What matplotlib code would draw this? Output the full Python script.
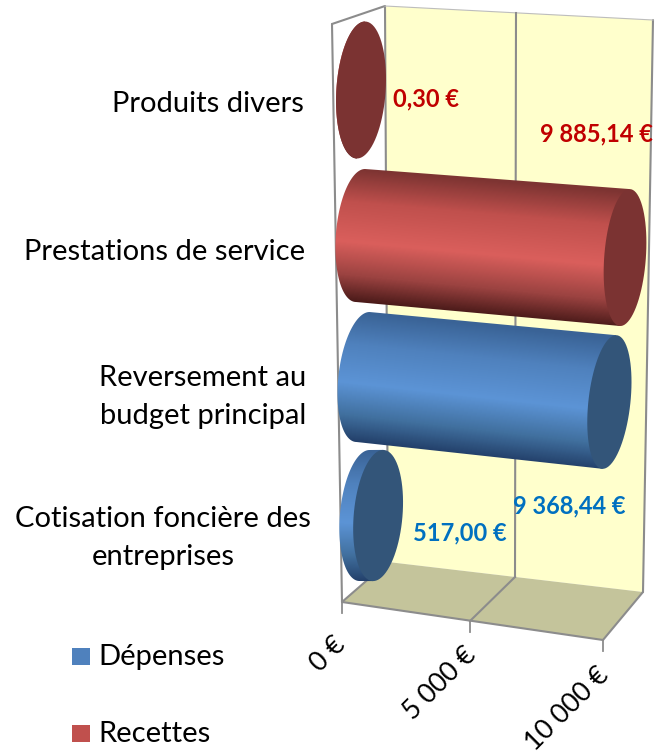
#!/usr/bin/env python3
"""Cylindres 3D : depenses / recettes, dessines a la main en coordonnees pixel"""

import numpy as np
import matplotlib
matplotlib.use('Agg')
import matplotlib.pyplot as plt
from matplotlib.colors import LinearSegmentedColormap
from matplotlib.patches import Polygon, PathPatch
from matplotlib.path import Path

plt.rcParams['font.family'] = ['Lato', 'DejaVu Sans']

# donnees, de haut en bas
categories = ['Produits divers', 'Prestations de service',
              'Reversement au\nbudget principal',
              'Cotisation foncière des\nentreprises']
series = ['Recettes', 'Recettes', 'Dépenses', 'Dépenses']
values = [0.30, 9885.14, 9368.44, 517.00]
value_labels = ['0,30 €', '9 885,14 €', '9 368,44 €', '517,00 €']
ticks = [0, 5000, 10000]
tick_labels = ['0 €', '5 000 €', '10 000 €']
legend_names = ['Dépenses', 'Recettes']

# geometrie de la boite 3D (pixels)
front_x = [342, 470, 603]
front_y = [602, 621, 640]
back_x = [388, 515, 643]
back_y = [562, 577, 592]
top_back_x = [385, 516, 653]
top_back_y = [6, 13, 20]

# geometrie des cylindres : centre de depart, demi-axe, pixels par euro
row_cx = [361, 360.5, 363, 364.5]
row_cy = [90, 235.5, 377, 515.5]
row_ax = [4, 4.5, 6.5, 5]
row_ay = [68.5, 66.5, 65, 65.5]
row_sx = [0.0265, 0.02676, 0.0263, 0.0263]
row_sy = [0.0, 0.00223, 0.00267, 0.0]

CAP = {'Recettes': '#7b3332', 'Dépenses': '#335579'}
BODY = {
    'Recettes': [(0, '#7d3432'), (0.25, '#c0504d'), (0.55, '#da5f5c'), (0.8, '#9c4341'), (1, '#4a1a19')],
    'Dépenses': [(0, '#3a6396'), (0.25, '#4f81bd'), (0.55, '#5c94d6'), (0.8, '#41709f'), (1, '#23406a')],
}
LEGEND = {'Dépenses': '#4f81bd', 'Recettes': '#c0504d'}
TEXT = {'Recettes': '#c00000', 'Dépenses': '#0070c0'}
GRID = '#8c8c8c'

fig = plt.figure(figsize=(6.62, 7.55), dpi=100)
ax = fig.add_axes([0, 0, 1, 1])
ax.set_xlim(0, 662)
ax.set_ylim(755, 0)
ax.axis('off')


def half_width(x):
    return 24.7 - (x - 360) * 0.0145


def ellipse(cx, cy, axx, ayy, w, t0=0, t1=2 * np.pi):
    t = np.linspace(t0, t1, 80)
    # t=0 en haut, t=pi/2 a gauche, t=pi en bas
    return np.column_stack([cx + axx * np.cos(t) - w * np.sin(t),
                            cy - ayy * np.cos(t)])


# murs et sol
ax.add_patch(Polygon([(top_back_x[0], top_back_y[0]), (top_back_x[-1], top_back_y[-1]),
                      (back_x[-1], back_y[-1]), (back_x[0], back_y[0])],
                     fc='#ffffcc', ec='none', zorder=1))
ax.add_patch(Polygon([(front_x[0], front_y[0]), (back_x[0], back_y[0]),
                      (back_x[-1], back_y[-1]), (front_x[-1], front_y[-1])],
                     fc='#c4c49b', ec='none', zorder=1))

lines = [
    ((332, 342), (24, front_y[0])),
    ((332, top_back_x[0]), (24, top_back_y[0])),
    ((top_back_x[0], back_x[0]), (top_back_y[0], back_y[0])),
    ((top_back_x[-1], back_x[-1]), (top_back_y[-1], back_y[-1])),
    ((front_x[0], front_x[-1]), (front_y[0], front_y[-1])),
    ((front_x[-1], back_x[-1]), (front_y[-1], back_y[-1])),
    ((front_x[0], back_x[0]), (front_y[0], back_y[0])),
]
for xs, ys in lines:
    ax.plot(xs, ys, color=GRID, lw=1.5, zorder=2, solid_capstyle='round')
ax.plot([top_back_x[0], top_back_x[-1]], [top_back_y[0], top_back_y[-1]],
        color='#bdbdbd', lw=0.8, zorder=2)

for i, tick in enumerate(ticks):
    ax.plot([front_x[i], front_x[i]], [front_y[i], front_y[i] + 11], color=GRID, lw=1.3, zorder=2)
    if i == 1:
        ax.plot([top_back_x[i], back_x[i]], [top_back_y[i], back_y[i]], color=GRID, lw=1.5, zorder=2)
        ax.plot([front_x[i], back_x[i]], [front_y[i], back_y[i]], color=GRID, lw=1.5, zorder=2)

# cylindres
for i, value in enumerate(values):
    name = series[i]
    cx0, cy0 = row_cx[i], row_cy[i]
    cx1 = cx0 + value * row_sx[i]
    cy1 = cy0 + value * row_sy[i]
    grow = 1 + value / 10000 * 0.03
    axx, ayy = row_ax[i], row_ay[i]
    w0, w1 = half_width(cx0), half_width(cx1)

    left = ellipse(cx0, cy0, axx, ayy, w0, 0, np.pi)
    outline = np.vstack([left,
                         [cx1 - axx * grow, cy1 + ayy * grow],
                         [cx1 + axx * grow, cy1 - ayy * grow]])
    clip = PathPatch(Path(np.vstack([outline, outline[:1]])), fc='none', ec='none',
                     transform=ax.transData)
    ax.add_patch(clip)

    # degrade transverse qui suit la pente du cylindre
    x0 = int(min(outline[:, 0].min(), cx0 - 30))
    x1 = int(outline[:, 0].max() + 2)
    y0 = int(outline[:, 1].min() - 2)
    y1 = int(outline[:, 1].max() + 2)
    xx, yy = np.meshgrid(np.arange(x0, x1), np.arange(y0, y1))
    slope = row_sy[i] / row_sx[i]
    span = 2 * ayy * (1 + (xx - cx0) / 265 * 0.03)
    frac = (yy - (cy0 - ayy + slope * (xx - cx0))) / span
    cmap = LinearSegmentedColormap.from_list('body_%d' % i, BODY[name])
    im = ax.imshow(np.clip(frac, 0, 1), cmap=cmap, vmin=0, vmax=1, extent=(x0, x1, y1, y0),
                   aspect='auto', interpolation='bilinear', zorder=3 + i)
    im.set_clip_path(clip)

    cap = ellipse(cx1, cy1, axx * grow, ayy * grow, w1)
    ax.add_patch(Polygon(cap, fc=CAP[name], ec='none', zorder=3.5 + i))

ax.set_xlim(0, 662)
ax.set_ylim(755, 0)

# textes categories
label_pos = [(208, 104), (164.5, 252), (203, 397), (163, 538)]
for cat, (x, y) in zip(categories, label_pos):
    ax.text(x, y, cat, fontsize=21, color='black', ha='center', va='center', zorder=10, linespacing=1.58)

# etiquettes de valeurs
value_pos = [(393, 99), (540, 134), (513, 506), (413, 533)]
for txt, name, (x, y) in zip(value_labels, series, value_pos):
    ax.text(x, y, txt, fontsize=17, fontweight='bold', color=TEXT[name],
            ha='left', va='center', zorder=10)

# graduations
tick_pos = [(333, 632), (463, 643), (596, 663)]
for txt, (x, y) in zip(tick_labels, tick_pos):
    ax.text(x, y, txt, fontsize=19.3, rotation=45, rotation_mode='anchor',
            ha='right', va='top', color='black', zorder=10)

# legende
legend_y = [656, 733]
for name, y in zip(legend_names, legend_y):
    ax.add_patch(Polygon([(72, y - 8.5), (90, y - 8.5), (90, y + 8.5), (72, y + 8.5)],
                         fc=LEGEND[name], ec='none', zorder=10))
    ax.text(98, y + 1, name, fontsize=21, color='black', ha='left', va='center', zorder=10)

fig.savefig('out.png', dpi=100)
